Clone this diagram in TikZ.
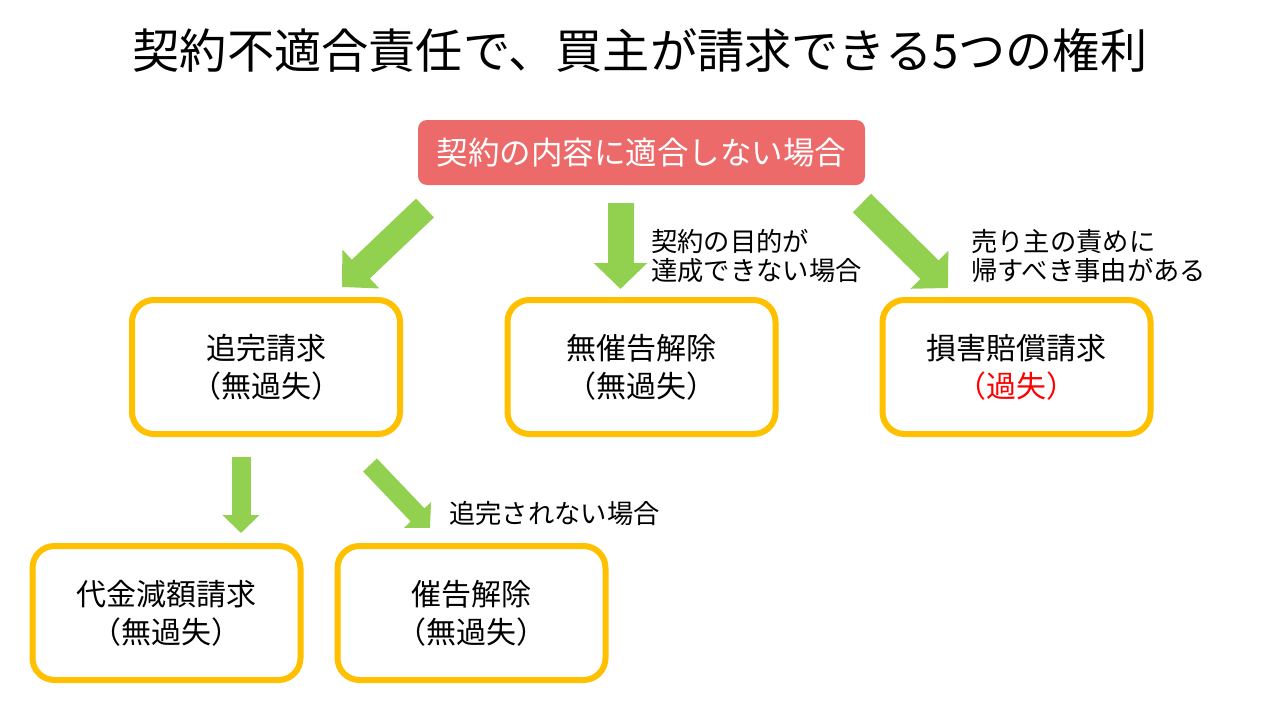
\documentclass[tikz,border=0pt]{standalone}
\usepackage{fontspec}
\setmainfont{Noto Sans CJK JP}
\usetikzlibrary{arrows.meta}
\definecolor{boxred}{HTML}{EC6A6A}
\definecolor{boxyellow}{HTML}{FFC000}
\definecolor{arrowgreen}{HTML}{92D050}
\definecolor{textred}{HTML}{FF0000}
\begin{document}
\begin{tikzpicture}[x=1pt,y=-1pt,
  ybox/.style={draw=boxyellow, line width=6pt, rounded corners=22pt, fill=white,
    minimum width=268pt, minimum height=134pt, align=center, inner sep=0pt,
    font=\fontsize{30}{38}\selectfont},
  bigarrow/.style={draw=arrowgreen, line width=26pt,
    -{Triangle[width=52pt,length=26pt]}},
  smallarrow/.style={draw=arrowgreen, line width=19pt,
    -{Triangle[width=36pt,length=18pt]}},
  sidelabel/.style={anchor=west, align=left, inner sep=0pt,
    font=\fontsize{26.3}{29}\selectfont}
]
\useasboundingbox[fill=white] (0,0) rectangle (1280,720);

% title
\node[font=\fontsize{47.2}{52}\selectfont] (title) at (640,50) {契約不適合責任で、買主が請求できる5つの権利};

% top red box
\node[fill=boxred, rounded corners=9pt, minimum width=447pt, minimum height=65pt,
  text=white, font=\fontsize{31.5}{34}\selectfont] (top) at (641.5,152.5) {契約の内容に適合しない場合};

% boxes
\node[ybox] (b1) at (266,367) {追完請求\\（無過失）};
\node[ybox] (b2) at (641.5,367) {無催告解除\\（無過失）};
\node[ybox] (b3) at (1016.5,367) {損害賠償請求\\\textcolor{textred}{（過失）}};
\node[ybox] (b4) at (166.5,613) {代金減額請求\\（無過失）};
\node[ybox] (b5) at (471.5,613) {催告解除\\（無過失）};

% arrow coordinates
\coordinate (a1s) at (425,208);
\coordinate (a1e) at (342,287);
\coordinate (a2s) at (620.5,203);
\coordinate (a2e) at (620.5,289);
\coordinate (a3s) at (862,203);
\coordinate (a3e) at (948,288);
\coordinate (a4s) at (241,457);
\coordinate (a4e) at (241,533);
\coordinate (a5s) at (370,465);
\coordinate (a5e) at (430,528);

\draw[bigarrow] (a1s) -- (a1e);
\draw[bigarrow] (a2s) -- (a2e);
\draw[bigarrow] (a3s) -- (a3e);
\draw[smallarrow] (a4s) -- (a4e);
\draw[smallarrow] (a5s) -- (a5e);

% side labels
\node[sidelabel] (l2) at (651,256) {契約の目的が\\達成できない場合};
\node[sidelabel] (l3) at (971,256) {売り主の責めに\\帰すべき事由がある};
\node[sidelabel] (l5) at (449,514) {追完されない場合};
\end{tikzpicture}
\end{document}
